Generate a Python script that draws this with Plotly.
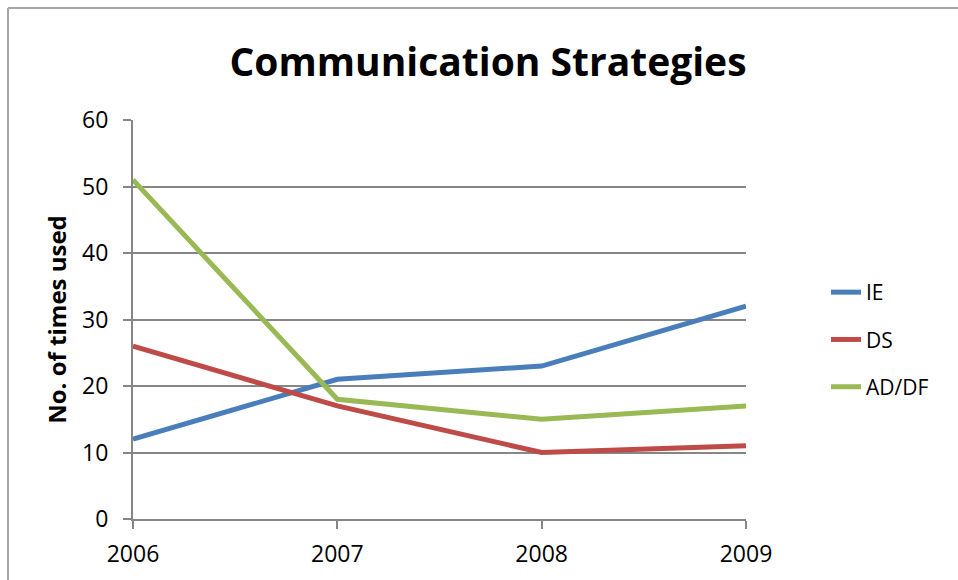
import plotly.graph_objects as go

years = [2006, 2007, 2008, 2009]
ie = [12, 21, 23, 32]
ds = [26, 17, 10, 11]
addf = [51, 18, 15, 17]
series_names = ["IE", "DS", "AD/DF"]
colors = ["#4A7EBB", "#BE4B48", "#98B954"]

fig = go.Figure()
for name, vals, col in zip(series_names, [ie, ds, addf], colors):
    fig.add_trace(go.Scatter(x=years, y=vals, mode="lines", name=name,
                             legendgroup=name,
                             line=dict(color=col, width=5)))

W, H = 958, 580
L, R, T, B = 133, 212, 120, 61
pw, ph = W - L - R, H - T - B
font = "Open Sans, sans-serif"

fig.update_layout(
    width=W, height=H,
    margin=dict(l=L, r=R, t=T, b=B),
    paper_bgcolor="white", plot_bgcolor="white",
    title=dict(text="<b>Communication Strategies</b>", x=(488 - L) / pw, xref="paper",
               xanchor="center", y=1 - 62 / H, yanchor="middle",
               font=dict(family=font, size=39, color="black")),
    showlegend=True,
    legend=dict(x=(826 - L) / pw, y=(H - B - 272) / ph, xanchor="left", yanchor="top",
                traceorder="grouped", tracegroupgap=17,
                font=dict(family=font, size=21, color="black"),
                bgcolor="rgba(0,0,0,0)"),
    xaxis=dict(range=[2006, 2009], tickvals=years, ticktext=[str(y) for y in years],
               showgrid=False, showline=True, linecolor="#868686", linewidth=2,
               ticks="outside", ticklen=8, tickcolor="#868686", tickwidth=2,
               ticklabelstandoff=5,
               tickfont=dict(family=font, size=23, color="black"), zeroline=False),
    yaxis=dict(range=[0, 60], tickvals=[0, 10, 20, 30, 40, 50, 60],
               showgrid=True, gridcolor="#868686", gridwidth=2,
               showline=True, linecolor="#868686", linewidth=2,
               ticks="outside", ticklen=8, tickcolor="#868686", tickwidth=2,
               ticklabelstandoff=10,
               tickfont=dict(family=font, size=23, color="black"), zeroline=False,
               title=dict(text="<b>No. of times used</b>", standoff=9,
                          font=dict(family=font, size=24, color="black"))),
)

# chart frame (left and top edges)
x0 = (8 - L) / pw
y0 = (H - B - 8) / ph
fig.add_shape(type="line", xref="paper", yref="paper", x0=x0, x1=x0, y0=y0, y1=-1,
              line=dict(color="#A6A6A6", width=2))
fig.add_shape(type="line", xref="paper", yref="paper", x0=x0, x1=2, y0=y0, y1=y0,
              line=dict(color="#A6A6A6", width=2))

fig.write_html("out.html", config={"displayModeBar": False},
               post_script="document.body.style.margin='0';document.body.style.overflow='hidden';")
